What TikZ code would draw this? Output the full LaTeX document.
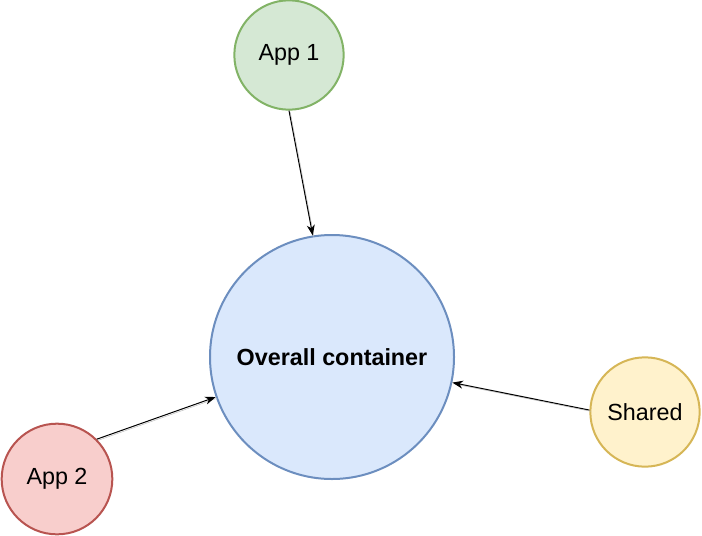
\documentclass[tikz,border=0pt]{standalone}
\usepackage{fontspec}
\setmainfont{Liberation Sans}
\usetikzlibrary{arrows.meta}
\definecolor{appgreenfill}{HTML}{D5E8D4}
\definecolor{appgreenline}{HTML}{82B366}
\definecolor{appredfill}{HTML}{F8CECC}
\definecolor{appredline}{HTML}{B85450}
\definecolor{contfill}{HTML}{DAE8FC}
\definecolor{contline}{HTML}{6C8EBF}
\definecolor{sharedfill}{HTML}{FFF2CC}
\definecolor{sharedline}{HTML}{D6B656}
\tikzset{
    bubble/.style={circle, line width=1.5pt, inner sep=0pt, font=\fontsize{17.5}{21}\selectfont},
    link/.style={line width=0.75pt, -{Stealth[length=8pt, width=6pt, inset=2.5pt]},
        preaction={draw, black!25, -, transform canvas={shift={(0.9pt,-0.9pt)}}}}
}
\begin{document}
\begin{tikzpicture}[x=0.75pt, y=-0.75pt]
        \useasboundingbox (0, 0) rectangle (702, 535);
        \begin{scope}
            \node[bubble, draw=contline, fill=contfill, minimum size=183pt] (container) at (332, 357) {\textbf{Overall container}};
            \node[bubble, draw=appgreenline, fill=appgreenfill, minimum size=82pt] (app1) at (289, 55) {App 1};
            \node[bubble, draw=appredline, fill=appredfill, minimum size=83pt] (app2) at (57, 479) {App 2};
            \node[bubble, draw=sharedline, fill=sharedfill, minimum size=82pt] (shared) at (645, 412) {Shared};
            \draw[link] (app1.south) -- (container.99.5);
            \draw[link] (app2.45) -- (container.199);
            \draw[link] (shared.178) -- (container.-12);
        \end{scope}
    \end{tikzpicture}
\end{document}
